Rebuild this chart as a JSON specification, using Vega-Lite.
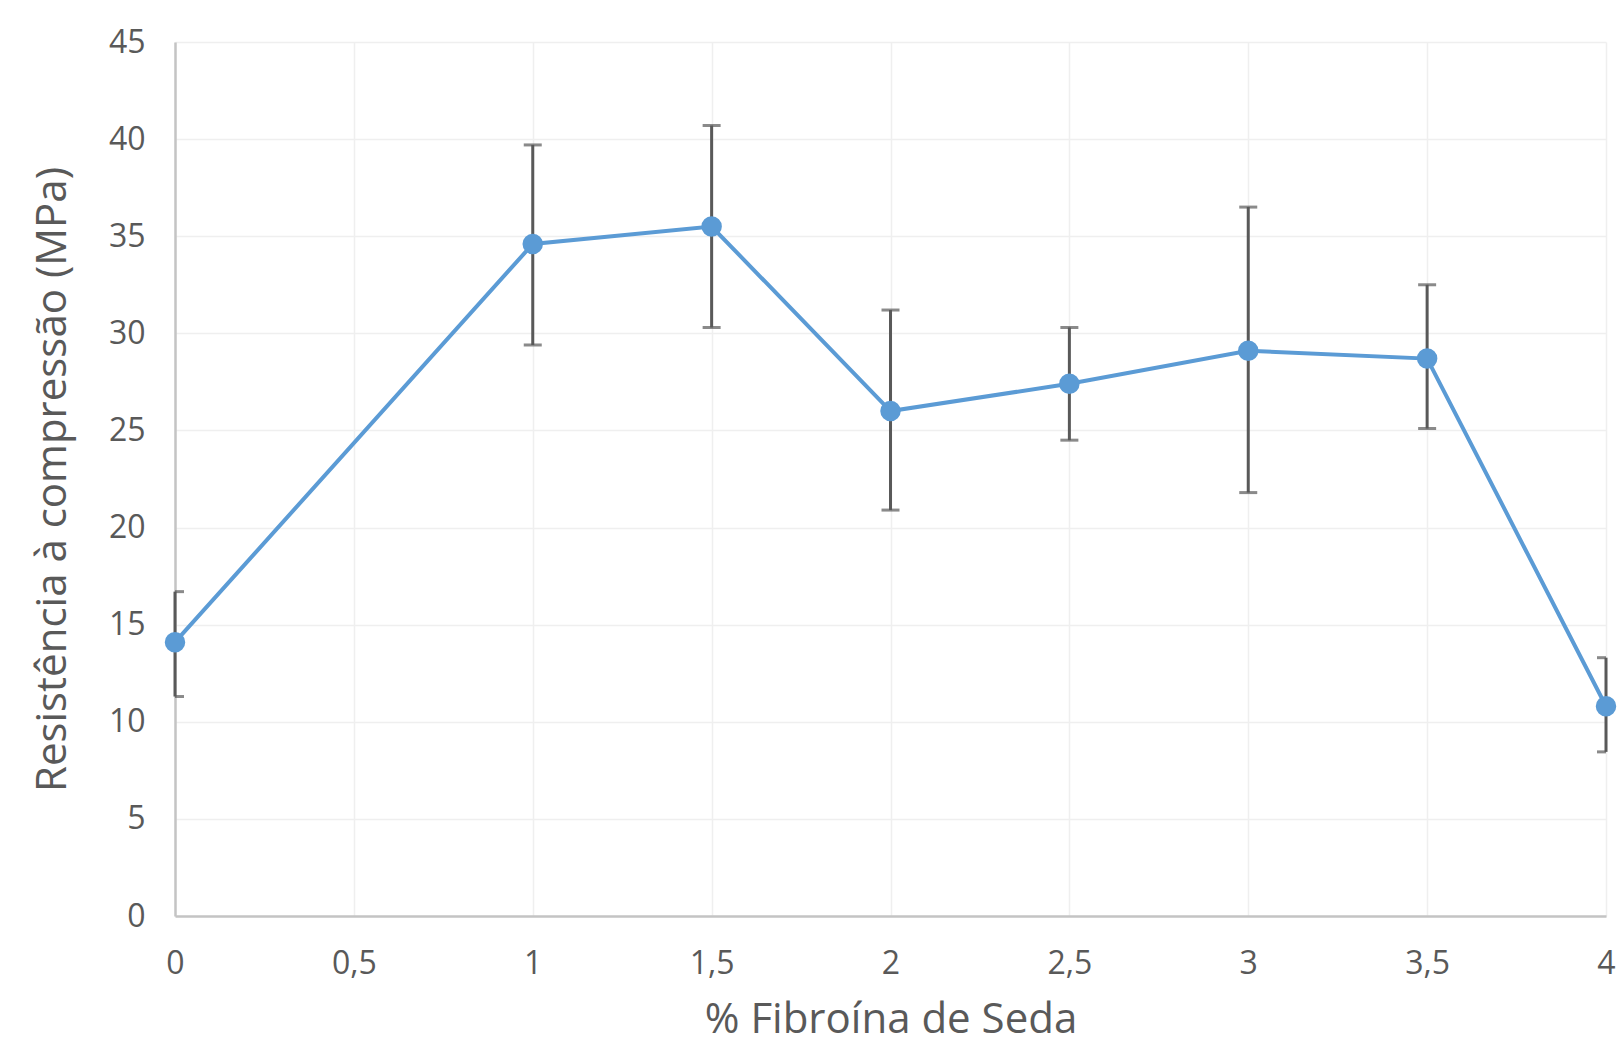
{
  "$schema": "https://vega.github.io/schema/vega-lite/v6.json",
  "width": 1431,
  "height": 874,
  "autosize": {"type": "none"},
  "padding": {"left": 175, "top": 42, "right": 11, "bottom": 132},
  "background": "white",
  "config": {
    "font": "Open Sans",
    "view": {"stroke": null},
    "axis": {
      "labelFont": "Open Sans",
      "titleFont": "Open Sans",
      "labelColor": "#595959",
      "titleColor": "#595959",
      "labelFontSize": 32,
      "titleFontSize": 42,
      "titleFontWeight": "normal",
      "gridColor": "#efefef",
      "gridWidth": 1.5,
      "domainColor": "#c4c4c4",
      "domainWidth": 2.5,
      "ticks": false
    }
  },
  "data": {
    "values": [
      {"fibroina": 0, "resistencia": 14.1, "sup": 16.7, "inf": 11.3},
      {"fibroina": 1, "resistencia": 34.6, "sup": 39.7, "inf": 29.4},
      {"fibroina": 1.5, "resistencia": 35.5, "sup": 40.7, "inf": 30.3},
      {"fibroina": 2, "resistencia": 26.0, "sup": 31.2, "inf": 20.9},
      {"fibroina": 2.5, "resistencia": 27.4, "sup": 30.3, "inf": 24.5},
      {"fibroina": 3, "resistencia": 29.1, "sup": 36.5, "inf": 21.8},
      {"fibroina": 3.5, "resistencia": 28.7, "sup": 32.5, "inf": 25.1},
      {"fibroina": 4, "resistencia": 10.8, "sup": 13.3, "inf": 8.45}
    ]
  },
  "encoding": {
    "x": {
      "field": "fibroina",
      "type": "quantitative",
      "scale": {"domain": [0, 4], "nice": false, "zero": false},
      "axis": {
        "title": "% Fibroína de Seda",
        "values": [0, 0.5, 1, 1.5, 2, 2.5, 3, 3.5, 4],
        "labelExpr": "replace(format(datum.value, '~g'), '.', ',')",
        "labelPadding": 32,
        "titlePadding": 20,
        "labelFlush": false
      }
    }
  },
  "layer": [
    {
      "mark": {"type": "rule", "color": "#595959", "strokeWidth": 3},
      "encoding": {
        "y": {"field": "inf", "type": "quantitative", "scale": {"domain": [0, 45], "nice": false},
          "axis": {
            "title": "Resistência à compressão (MPa)",
            "values": [0, 5, 10, 15, 20, 25, 30, 35, 40, 45],
            "labelPadding": 30,
            "titlePadding": 34,
            "labelFlush": false
          }},
        "y2": {"field": "sup"}
      }
    },
    {
      "mark": {"type": "tick", "orient": "horizontal", "color": "#595959", "size": 18, "thickness": 3, "clip": true},
      "encoding": {"y": {"field": "sup", "type": "quantitative"}}
    },
    {
      "mark": {"type": "tick", "orient": "horizontal", "color": "#595959", "size": 18, "thickness": 3, "clip": true},
      "encoding": {"y": {"field": "inf", "type": "quantitative"}}
    },
    {
      "mark": {"type": "line", "color": "#5B9BD5", "strokeWidth": 4},
      "encoding": {"y": {"field": "resistencia", "type": "quantitative"}}
    },
    {
      "mark": {"type": "point", "filled": true, "opacity": 1, "color": "#5B9BD5", "size": 420},
      "encoding": {"y": {"field": "resistencia", "type": "quantitative"}}
    }
  ]
}
